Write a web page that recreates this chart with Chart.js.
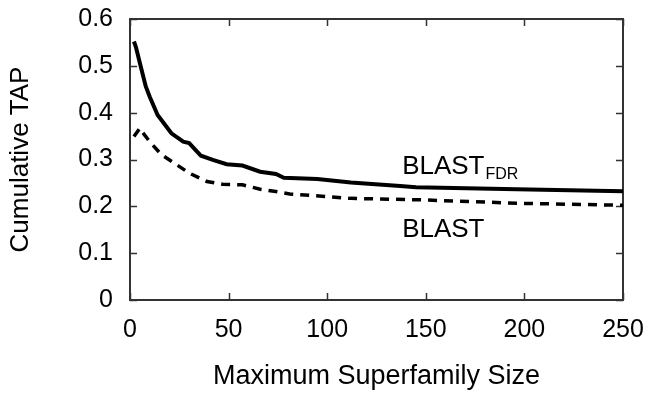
<!DOCTYPE html>
<html>
<head>
<meta charset="utf-8">
<script src="https://cdn.jsdelivr.net/npm/chart.js@4/dist/chart.umd.min.js"></script>
<style>
  html, body { margin: 0; padding: 0; background: #ffffff; }
  #wrap { width: 650px; height: 394px; }
</style>
</head>
<body>
<div id="wrap"><canvas id="chart" width="650" height="394"></canvas></div>
<script>
'use strict';

// BLAST_FDR (solid)
const fdrX = [2, 3, 5, 8, 10, 14, 21, 27, 30, 34, 36, 42, 49, 57, 66, 74, 78, 95, 112, 137, 145, 196, 250];
const fdrY = [0.552, 0.540, 0.506, 0.456, 0.434, 0.395, 0.356, 0.338, 0.335, 0.317, 0.308, 0.299, 0.290, 0.287, 0.274, 0.269, 0.261, 0.2585, 0.2507, 0.2436, 0.241, 0.2365, 0.232];

// BLAST (dashed)
const blastX = [2, 3, 5, 6, 10, 16, 24, 30, 39, 47, 57, 66, 74, 81, 112, 149, 196, 250];
const blastY = [0.349, 0.355, 0.367, 0.360, 0.338, 0.310, 0.288, 0.271, 0.253, 0.247, 0.246, 0.2365, 0.2315, 0.2265, 0.217, 0.2137, 0.2066, 0.2023];

const xTicks = [0, 50, 100, 150, 200, 250];
const yTicks = [0, 0.1, 0.2, 0.3, 0.4, 0.5, 0.6];

const FONT = 'Liberation Sans, Arial, Helvetica, sans-serif';
const INK = '#000000';
const AXIS = '#333333';

// plot box in canvas pixels
const BOX = { left: 130, right: 623, top: 19, bottom: 300 };

const toPts = (xs, ys) => xs.map((x, i) => ({ x, y: ys[i] }));

// pin the plot area to the reference's box
const boxPlugin = {
  id: 'boxPlugin',
  afterLayout(chart) {
    const a = chart.chartArea;
    Object.assign(a, BOX, { width: BOX.right - BOX.left, height: BOX.bottom - BOX.top });
    const { x, y } = chart.scales;
    Object.assign(x, { left: BOX.left, right: BOX.right, width: BOX.right - BOX.left, top: BOX.bottom, bottom: chart.height, height: chart.height - BOX.bottom });
    Object.assign(y, { left: 0, right: BOX.left, width: BOX.left, top: BOX.top, bottom: BOX.bottom, height: BOX.bottom - BOX.top });
    x.configure();
    y.configure();
  }
};

// frame + inward tick marks on all four sides, and the in-plot series labels
const framePlugin = {
  id: 'framePlugin',
  beforeDatasetsDraw(chart) {
    const { ctx, chartArea: a, scales } = chart;
    const tl = 7;
    ctx.save();
    ctx.strokeStyle = AXIS;
    ctx.lineWidth = 2;
    ctx.strokeRect(a.left, a.top, a.right - a.left, a.bottom - a.top);
    ctx.beginPath();
    xTicks.forEach(v => {
      const px = Math.round(scales.x.getPixelForValue(v)) + 0.5;
      ctx.moveTo(px, a.bottom); ctx.lineTo(px, a.bottom - tl);
      ctx.moveTo(px, a.top); ctx.lineTo(px, a.top + tl);
    });
    yTicks.forEach(v => {
      const py = Math.round(scales.y.getPixelForValue(v)) + 0.5;
      ctx.moveTo(a.left, py); ctx.lineTo(a.left + tl, py);
      ctx.moveTo(a.right, py); ctx.lineTo(a.right - tl, py);
    });
    ctx.lineWidth = 1.5;
    ctx.stroke();
    ctx.restore();
  },
  afterDatasetsDraw(chart) {
    const { ctx, scales } = chart;
    ctx.save();
    ctx.fillStyle = INK;
    ctx.textBaseline = 'alphabetic';
    ctx.textAlign = 'left';
    const lx = scales.x.getPixelForValue(138);
    ctx.font = `26px ${FONT}`;
    const y1 = scales.y.getPixelForValue(0.269);
    ctx.fillText('BLAST', lx, y1);
    const w = ctx.measureText('BLAST').width;
    ctx.font = `16px ${FONT}`;
    ctx.fillText('FDR', lx + w + 1, y1 + 5);
    ctx.font = `26px ${FONT}`;
    ctx.fillText('BLAST', lx, scales.y.getPixelForValue(0.135));
    ctx.restore();
  }
};

const chart = new Chart(document.getElementById('chart').getContext('2d'), {
  type: 'line',
  data: {
    datasets: [
      {
        label: 'BLAST_FDR',
        data: toPts(fdrX, fdrY),
        borderColor: INK,
        borderWidth: 4,
        pointRadius: 0,
        tension: 0,
        fill: false
      },
      {
        label: 'BLAST',
        data: toPts(blastX, blastY),
        borderColor: INK,
        borderWidth: 3.5,
        borderDash: [9, 7],
        pointRadius: 0,
        tension: 0,
        fill: false
      }
    ]
  },
  options: {
    responsive: false,
    animation: false,
    devicePixelRatio: 1,
    layout: { padding: 0 },
    plugins: { legend: { display: false }, tooltip: { enabled: false } },
    scales: {
      x: {
        type: 'linear',
        min: 0,
        max: 250,
        afterBuildTicks: (s) => { s.ticks = xTicks.map(v => ({ value: v })); },
        grid: { display: false, drawTicks: false },
        border: { display: false },
        ticks: { color: INK, font: { family: FONT, size: 25 }, padding: 15, maxRotation: 0 },
        title: { display: true, text: 'Maximum Superfamily Size', color: INK, font: { family: FONT, size: 27 }, padding: { top: 0, bottom: 1 } }
      },
      y: {
        min: 0,
        max: 0.6,
        afterBuildTicks: (s) => { s.ticks = yTicks.map(v => ({ value: v })); },
        grid: { display: false, drawTicks: false },
        border: { display: false },
        ticks: { color: INK, font: { family: FONT, size: 25 }, padding: 17, callback: (v) => (v === 0 ? '0' : v.toFixed(1)) },
        title: { display: true, text: 'Cumulative TAP', color: INK, font: { family: FONT, size: 26 }, padding: { top: 5, bottom: 0 } }
      }
    }
  },
  plugins: [boxPlugin, framePlugin]
});
</script>
</body>
</html>
